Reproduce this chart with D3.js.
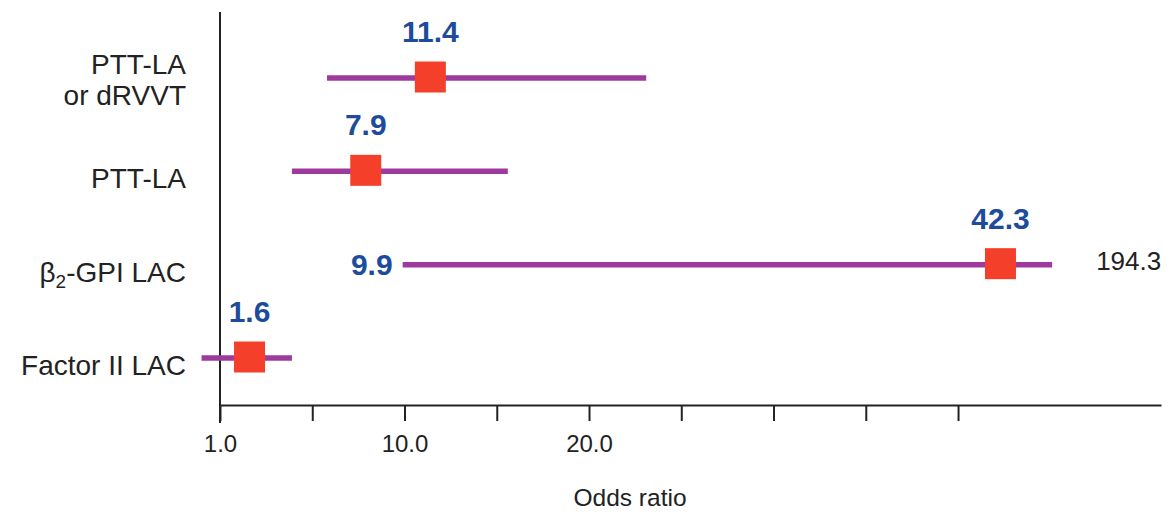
<!DOCTYPE html>
<html>
<head>
<meta charset="utf-8">
<script src="https://cdn.jsdelivr.net/npm/d3@7"></script>
<style>
  body { margin: 0; background: #fff; }
  svg { display: block; }
</style>
</head>
<body>
<svg id="chart" width="1169" height="512"></svg>
<script>
// Lupus anticoagulant assays: odds ratios with confidence intervals
const categories = ["PTT-LA\nor dRVVT", "PTT-LA", "β2-GPI LAC", "Factor II LAC"];
const oddsRatios = [11.4, 7.9, 42.3, 1.6];
const ciLower = [5.8, 3.9, 9.9, -1.0];
const ciUpper = [23.1, 15.6, 194.3, 3.9];
const tickValues = [0, 5, 10, 15, 20, 25, 30, 35, 40];
const tickLabels = ["1.0", "", "10.0", "", "20.0", "", "", "", ""];
const axisTitle = "Odds ratio";
// intervals reaching past this point are cut short and their bounds written out
const displayMax = 45.1;

const rows = categories.map((c, i) => ({
  name: c, or: oddsRatios[i], lo: ciLower[i], hi: ciUpper[i]
}));

const svg = d3.select("#chart");
const FONT = "'Liberation Sans', Arial, Helvetica, sans-serif";
const INK = "#222";
const PURPLE = "#9e3a9e";
const RED = "#f4402b";
const BLUE = "#1d4c9d";

const x = d3.scaleLinear().domain([0, 51]).range([220, 1161]);
const y = d3.scalePoint().domain(categories).range([77, 357]);
const axisY = 405;

// x axis
const xAxis = d3.axisBottom(x)
  .tickValues(tickValues)
  .tickFormat((d, i) => tickLabels[i])
  .tickSize(16)
  .tickSizeOuter(0);

const gx = svg.append("g")
  .attr("transform", `translate(0,${axisY})`)
  .call(xAxis);
gx.select(".domain").attr("stroke", INK).attr("stroke-width", 2);
gx.selectAll(".tick line").attr("stroke", INK).attr("stroke-width", 2);
gx.selectAll(".tick text")
  .attr("y", 30)
  .attr("fill", INK)
  .style("font-family", FONT)
  .style("font-size", "24px");

// y axis line
svg.append("line")
  .attr("x1", x(0)).attr("x2", x(0))
  .attr("y1", 12).attr("y2", axisY + 18)
  .attr("stroke", INK).attr("stroke-width", 2);

// axis title
svg.append("text")
  .attr("x", 630).attr("y", 506)
  .attr("text-anchor", "middle")
  .attr("fill", INK)
  .style("font-family", FONT)
  .style("font-size", "24.5px")
  .text(axisTitle);

// category labels (multi-line, Greek letter followed by a digit gets a subscript)
const labels = svg.append("g");
rows.forEach(r => {
  const lines = r.name.split("\n");
  const cy = y(r.name);
  const t = labels.append("text")
    .attr("text-anchor", "end")
    .attr("fill", INK)
    .style("font-family", FONT)
    .style("font-size", "28px");
  lines.forEach((ln, li) => {
    const baseY = cy + 18 - (lines.length - 1) * 21 + li * 31;
    const m = ln.match(/^([α-ω])(\d)(.*)$/);
    if (m) {
      t.append("tspan").attr("x", 186).attr("y", baseY).text(m[1]);
      t.append("tspan").attr("dy", 6).style("font-size", "19px").text(m[2]);
      t.append("tspan").attr("dy", -6).text(m[3]);
    } else {
      t.append("tspan").attr("x", 186).attr("y", baseY).text(ln);
    }
  });
});

// confidence interval lines
svg.append("g").selectAll("line")
  .data(rows)
  .join("line")
  .attr("x1", d => x(d.lo))
  .attr("x2", d => x(Math.min(d.hi, displayMax)))
  .attr("y1", d => y(d.name) + 1)
  .attr("y2", d => y(d.name) + 1)
  .attr("stroke", PURPLE)
  .attr("stroke-width", 5.5);

// point estimates
const S = 31;
svg.append("g").selectAll("rect")
  .data(rows)
  .join("rect")
  .attr("x", d => x(d.or) - S / 2)
  .attr("y", d => y(d.name) - S / 2)
  .attr("width", S)
  .attr("height", S)
  .attr("fill", RED);

// odds ratio values above the squares
svg.append("g").selectAll("text")
  .data(rows)
  .join("text")
  .attr("x", d => x(d.or))
  .attr("y", d => y(d.name) - 35)
  .attr("text-anchor", "middle")
  .attr("fill", BLUE)
  .style("font-family", FONT)
  .style("font-weight", "bold")
  .style("font-size", "30px")
  .text(d => d.or.toFixed(1));

// bounds written out for truncated intervals
const truncated = rows.filter(d => d.hi > displayMax);
svg.append("g").selectAll("text")
  .data(truncated)
  .join("text")
  .attr("x", d => x(d.lo) - 10)
  .attr("y", d => y(d.name) + 11)
  .attr("text-anchor", "end")
  .attr("fill", BLUE)
  .style("font-family", FONT)
  .style("font-weight", "bold")
  .style("font-size", "30px")
  .text(d => d.lo.toFixed(1));

svg.append("g").selectAll("text")
  .data(truncated)
  .join("text")
  .attr("x", x(displayMax) + 44)
  .attr("y", d => y(d.name) + 6)
  .attr("text-anchor", "start")
  .attr("fill", INK)
  .style("font-family", FONT)
  .style("font-size", "26px")
  .text(d => d.hi.toFixed(1));
</script>
</body>
</html>
